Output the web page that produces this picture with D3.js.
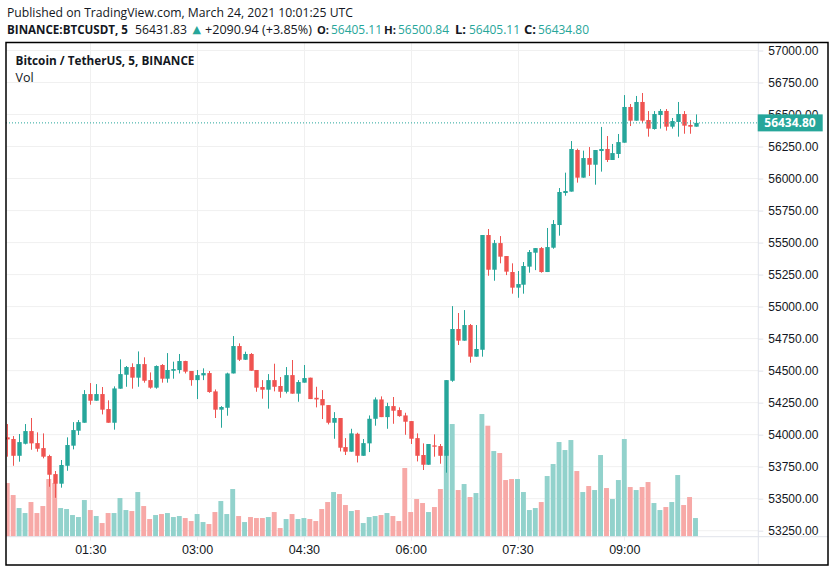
<!DOCTYPE html>
<html>
<head>
<meta charset="utf-8">
<script src="https://cdn.jsdelivr.net/npm/d3@7"></script>
<style>
body { margin: 0; background: #fff; }
svg { display: block; font-family: "Open Sans", sans-serif; }
</style>
</head>
<body>
<svg id="chart" width="835" height="572"></svg>
<script>
// BTCUSDT 5 min candles, 24 march 2021
var startTime = "2021-03-24 00:20";

var opens = [53979, 53966, 53835, 53929, 54028, 53934, 53895, 53833, 53692, 53617,
    53757, 53914, 54031, 54093, 54317, 54265, 54317, 54200, 54093, 54359,
    54468, 54528, 54445, 54551, 54426, 54367, 54544, 54437, 54499, 54505,
    54575, 54497, 54426, 54463, 54481, 54338, 54195, 54210, 54478, 54692,
    54585, 54630, 54505, 54372, 54351, 54426, 54380, 54335, 54465, 54320,
    54406, 54445, 54288, 54278, 54231, 54093, 54130, 53903, 53867, 54007,
    53835, 53932, 54124, 54275, 54137, 54223, 54192, 54150, 54106, 53973,
    53841, 53765, 53916, 53911, 53835, 54421, 54825, 54734, 54856, 54609,
    54663, 55559, 55288, 55496, 55395, 55270, 55148, 55171, 55312, 55421,
    55457, 55270, 55460, 55637, 55887, 55898, 56223, 56007, 56160, 56108,
    56215, 56231, 56145, 56192, 56280, 56559, 56452, 56598, 56457, 56387,
    56496, 56528, 56405, 56442, 56504, 56418, 56405.11];

var highs = [54083, 53989, 54005, 54083, 54130, 54018, 54010, 53843, 53716, 53802,
    53979, 54098, 54114, 54348, 54403, 54395, 54372, 54268, 54377, 54588,
    54536, 54557, 54650, 54604, 54486, 54541, 54551, 54637, 54570, 54630,
    54577, 54497, 54505, 54518, 54497, 54353, 54223, 54484, 54770, 54713,
    54648, 54637, 54505, 54426, 54473, 54554, 54450, 54528, 54583, 54426,
    54544, 54445, 54374, 54348, 54231, 54176, 54130, 53973, 54046, 54015,
    53966, 54150, 54291, 54299, 54249, 54294, 54213, 54171, 54106, 54010,
    53932, 53927, 54002, 53927, 54426, 55004, 54950, 54973, 54864, 54856,
    55559, 55606, 55520, 55551, 55395, 55338, 55278, 55348, 55442, 55457,
    55465, 55614, 55676, 55926, 56046, 56293, 56233, 56218, 56246, 56223,
    56403, 56332, 56270, 56348, 56652, 56582, 56645, 56668, 56527, 56527,
    56543, 56543, 56473, 56598, 56527, 56457, 56500.84];

var lows = [53828, 53757, 53789, 53924, 53882, 53867, 53815, 53593, 53507, 53586,
    53718, 53885, 53997, 54093, 54234, 54265, 54158, 54093, 54039, 54359,
    54374, 54359, 54374, 54406, 54359, 54359, 54406, 54406, 54437, 54478,
    54478, 54382, 54278, 54426, 54327, 54130, 54054, 54148, 54478, 54575,
    54583, 54499, 54335, 54281, 54203, 54338, 54288, 54322, 54320, 54257,
    54406, 54278, 54213, 54122, 54080, 53968, 53869, 53841, 53867, 53783,
    53835, 53864, 54070, 54137, 54046, 54085, 54140, 53999, 53927, 53791,
    53724, 53765, 53828, 53773, 53703, 54413, 54700, 54734, 54562, 54609,
    54609, 55241, 55202, 55338, 55246, 55101, 55069, 55101, 55265, 55285,
    55265, 55270, 55452, 55554, 55866, 55898, 55968, 56007, 56020, 55952,
    56054, 56129, 56145, 56160, 56280, 56410, 56452, 56436, 56327, 56382,
    56390, 56374, 56390, 56327, 56350, 56350, 56405.11];

var closes = [53963, 53835, 53942, 54028, 53932, 53890, 53828, 53687, 53617, 53763,
    53919, 54036, 54098, 54317, 54265, 54317, 54195, 54093, 54361, 54473,
    54528, 54445, 54551, 54421, 54367, 54536, 54437, 54505, 54512, 54575,
    54492, 54426, 54465, 54481, 54333, 54195, 54216, 54478, 54692, 54585,
    54630, 54499, 54367, 54351, 54426, 54374, 54335, 54465, 54320, 54411,
    54442, 54278, 54275, 54229, 54093, 54130, 53898, 53867, 54010, 53835,
    53934, 54124, 54275, 54137, 54223, 54187, 54145, 54101, 53968, 53835,
    53765, 53927, 53906, 53835, 54426, 54825, 54734, 54856, 54609, 54669,
    55559, 55288, 55496, 55390, 55273, 55148, 55176, 55317, 55426, 55457,
    55270, 55465, 55645, 55895, 55903, 56231, 56007, 56160, 56108, 56223,
    56231, 56145, 56199, 56285, 56559, 56452, 56598, 56452, 56390, 56504,
    56528, 56405, 56449, 56504, 56413, 56405, 56434.80];

var volumes = [805, 625, 430, 355, 520, 355, 460, 865, 805, 430,
    415, 325, 295, 550, 400, 310, 205, 355, 355, 580,
    400, 385, 670, 460, 265, 325, 340, 355, 295, 310,
    280, 235, 340, 220, 190, 370, 535, 340, 715, 310,
    220, 295, 280, 280, 295, 370, 130, 265, 340, 265,
    280, 265, 235, 415, 520, 670, 640, 475, 385, 400,
    205, 295, 310, 325, 355, 310, 235, 1030, 370, 565,
    505, 370, 445, 715, 1300, 1690, 700, 790, 595, 655,
    1840, 1665, 1285, 1255, 850, 865, 865, 670, 400, 430,
    520, 910, 1090, 1420, 1300, 1450, 985, 670, 760, 700,
    1225, 730, 565, 850, 1465, 745, 700, 745, 820, 505,
    400, 445, 520, 925, 475, 595, 280];

var timeTicks = ["01:30", "03:00", "04:30", "06:00", "07:30", "09:00"];
var priceTicks = [53250, 53500, 53750, 54000, 54250, 54500, 54750, 55000,
    55250, 55500, 55750, 56000, 56250, 56500, 56750, 57000];
var lastPrice = 56434.80;

var headerLine1 = "Published on TradingView.com, March 24, 2021 10:01:25 UTC";
var symbolName = "BINANCE:BTCUSDT, 5";
var lastTrade = "56431.83";
var changeText = "+2090.94 (+3.85%)";
var ohlcLabels = ["O:", "H:", "L:", "C:"];
var ohlcValues = ["56405.11", "56500.84", "56405.11", "56434.80"];
var paneTitle = "Bitcoin / TetherUS, 5, BINANCE";

var UP = "#26a69a", DOWN = "#ef5350";
var UP_VOL = "#92d2cc", DOWN_VOL = "#f7a9a7";
var GRID = "#f0f0f0", TEXT = "#131722";

var parseTime = d3.utcParse("%Y-%m-%d %H:%M");
var day = "2021-03-24 ";
var t0 = parseTime(startTime);
var candles = opens.map(function (o, i) {
    return {
        time: d3.utcMinute.offset(t0, 5 * i),
        o: o, h: highs[i], l: lows[i], c: closes[i], v: volumes[i]
    };
});

// frame of the snapshot (dont call it "top", window.top is taken...)
var frameL = 6, frameT = 42.5, frameR = 828, frameB = 565;
var plotRight = 758.3, axisY = 536.7;

var svg = d3.select("#chart");

var x = d3.scaleUtc()
    .domain([parseTime(day + "01:30"), parseTime(day + "09:00")])
    .range([90.3, 624.3]);
var y = d3.scaleLinear().domain([53250, 57000]).range([530.7, 50.5]);
var yVol = d3.scaleLinear().domain([0, 1500]).range([axisY, axisY - 100]);

svg.append("defs").append("clipPath").attr("id", "plot")
    .append("rect")
    .attr("x", frameL).attr("y", frameT)
    .attr("width", plotRight - frameL).attr("height", axisY - frameT);

// grid
var grid = svg.append("g");
grid.selectAll("line.h").data(priceTicks).enter().append("line")
    .attr("class", "h")
    .attr("x1", frameL).attr("x2", plotRight)
    .attr("y1", function (d) { return y(d); })
    .attr("y2", function (d) { return y(d); })
    .attr("stroke", GRID);
grid.selectAll("line.v").data(timeTicks).enter().append("line")
    .attr("class", "v")
    .attr("x1", function (d) { return Math.round(x(parseTime(day + d))) + 0.5; })
    .attr("x2", function (d) { return Math.round(x(parseTime(day + d))) + 0.5; })
    .attr("y1", frameT).attr("y2", axisY + 4)
    .attr("stroke", GRID);

var plot = svg.append("g").attr("clip-path", "url(#plot)");

// volume first so the candles sit on top
plot.selectAll("rect.vol").data(candles).enter().append("rect")
    .attr("class", "vol")
    .attr("x", function (d) { return x(d.time) - 2.45; })
    .attr("width", 4.9)
    .attr("y", function (d) { return yVol(d.v); })
    .attr("height", function (d) { return yVol(0) - yVol(d.v); })
    .attr("fill", function (d) { return d.c >= d.o ? UP_VOL : DOWN_VOL; });

var cg = plot.selectAll("g.candle").data(candles).enter().append("g").attr("class", "candle");
cg.append("line")
    .attr("x1", function (d) { return Math.round(x(d.time)) + 0.5; })
    .attr("x2", function (d) { return Math.round(x(d.time)) + 0.5; })
    .attr("y1", function (d) { return y(d.h); })
    .attr("y2", function (d) { return y(d.l); })
    .attr("stroke", function (d) { return d.c >= d.o ? UP : DOWN; });
cg.append("rect")
    .attr("x", function (d) { return Math.round(x(d.time)) + 0.5 - 2.2; })
    .attr("width", 4.4)
    .attr("y", function (d) { return y(Math.max(d.o, d.c)); })
    .attr("height", function (d) { return Math.max(1, Math.abs(y(d.o) - y(d.c))); })
    .attr("fill", function (d) { return d.c >= d.o ? UP : DOWN; });

// last price dotted line
svg.append("line")
    .attr("x1", frameL).attr("x2", plotRight)
    .attr("y1", y(lastPrice)).attr("y2", y(lastPrice))
    .attr("stroke", UP).attr("stroke-dasharray", "1 2");

// separators and frame
svg.append("line").attr("x1", plotRight).attr("x2", plotRight)
    .attr("y1", frameT).attr("y2", frameB).attr("stroke", "#e0e3eb");
svg.append("line").attr("x1", frameL).attr("x2", frameR)
    .attr("y1", axisY).attr("y2", axisY).attr("stroke", "#e0e3eb");
svg.append("rect")
    .attr("x", frameL).attr("y", frameT)
    .attr("width", frameR - frameL).attr("height", frameB - frameT)
    .attr("fill", "none").attr("stroke", "#000").attr("stroke-width", 1.5);

// price axis
var yAxis = d3.axisRight(y).tickValues(priceTicks)
    .tickFormat(d3.format(".2f")).tickSize(5).tickPadding(5);
var ya = svg.append("g").attr("transform", "translate(" + plotRight + ",0)").call(yAxis);
ya.select(".domain").remove();
ya.selectAll("line").attr("stroke", "#e0e3eb");
ya.selectAll("text").attr("fill", TEXT).style("font-size", "12px");

// time axis
var xAxis = d3.axisBottom(x)
    .tickValues(timeTicks.map(function (d) { return parseTime(day + d); }))
    .tickFormat(d3.utcFormat("%H:%M")).tickSize(0).tickPadding(8);
var xa = svg.append("g").attr("transform", "translate(0," + axisY + ")").call(xAxis);
xa.select(".domain").remove();
xa.selectAll("text").attr("fill", TEXT).style("font-size", "12.5px");

// last price tag
svg.append("rect")
    .attr("x", 757.7).attr("y", y(lastPrice) - 8.5)
    .attr("width", 65).attr("height", 17).attr("fill", UP);
svg.append("text")
    .attr("x", 790).attr("y", y(lastPrice) + 4.5)
    .attr("text-anchor", "middle").attr("fill", "#fff")
    .style("font-size", "12px").style("font-weight", "bold")
    .text(d3.format(".2f")(lastPrice));

// text that has to fill a given width: shrink the font instead of squashing it
function fitText(txt, px, py, width, color, bold, size) {
    var t = svg.append("text").attr("x", px).attr("y", py)
        .attr("fill", color).style("font-size", size + "px")
        .style("font-weight", bold ? "bold" : "normal")
        .text(txt);
    var w = t.node().getComputedTextLength();
    if (w > width) t.style("font-size", (size * width / w).toFixed(2) + "px");
    return t;
}

// header texts
fitText(headerLine1, 7, 17, 346, TEXT, false, 13);

// second header line, pieces at the places they sit in the snapshot
fitText(symbolName, 7, 33.5, 121, TEXT, true, 13);
fitText(lastTrade, 135, 33.5, 52, TEXT, false, 13);
svg.append("text").attr("x", 192.5).attr("y", 33)
    .attr("fill", UP).style("font-family", "DejaVu Sans").style("font-size", "11px")
    .text("\u25B2");
fitText(changeText, 205, 33.5, 107, TEXT, false, 13);
var labelX = [317, 384, 455, 524];
ohlcLabels.forEach(function (lab, i) {
    fitText(lab, labelX[i], 33.5, 12, TEXT, true, 13);
    fitText(ohlcValues[i], labelX[i] + 14, 33.5, 51, UP, false, 13);
});

fitText(paneTitle, 15.5, 65, 179, TEXT, true, 12.5);
svg.append("text").attr("x", 15.5).attr("y", 82)
    .attr("fill", TEXT).style("font-size", "12.5px")
    .text("Vol");
</script>
</body>
</html>
